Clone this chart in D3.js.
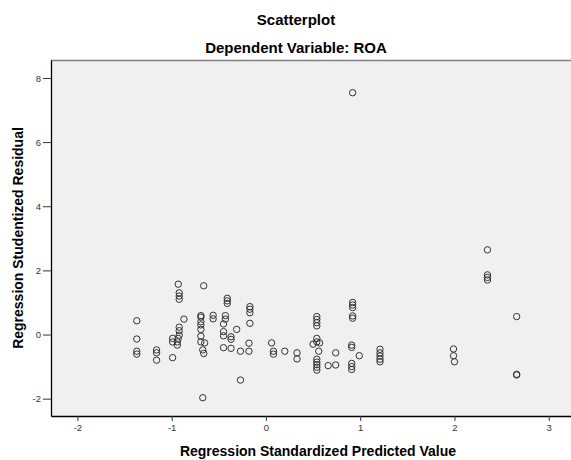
<!DOCTYPE html>
<html>
<head>
<meta charset="utf-8">
<script src="https://cdn.jsdelivr.net/npm/d3@7"></script>
<style>
body{margin:0;background:#fff;}
text{font-family:"Liberation Sans",Arial,sans-serif;}
</style>
</head>
<body>
<div id="viz"></div>
<script>
var w=571
var h=460

//Regression standardized predicted value (x)
var predicted=[-0.93,-0.66,-0.92,-0.92,-0.92,-1.37,-0.87,-0.69,-0.69,-0.69,-0.69,-0.69,-0.69,-0.69,
               -0.56,-0.56,-1.37,-1.37,-1.37,-1.16,-1.16,-1.16,-0.99,-0.92,-0.92,-0.92,-0.93,-0.94,
               -0.94,-0.99,-0.99,-0.67,-0.65,-0.67,-0.66,-0.41,-0.41,-0.41,-0.43,-0.43,-0.45,-0.45,
               -0.45,-0.37,-0.37,-0.31,-0.45,-0.37,-0.17,-0.17,-0.17,-0.17,-0.18,-0.18,-0.27,-0.27,
               0.06,0.08,0.08,0.20,0.33,0.33,0.54,0.54,0.54,0.54,0.54,0.54,0.50,0.57,0.56,0.54,
               0.54,0.54,0.54,0.54,0.66,0.74,0.74,0.92,0.92,0.92,0.92,0.92,0.91,0.91,0.99,0.91,
               0.91,0.91,1.21,1.21,1.21,1.21,1.21,2.35,2.35,2.35,2.35,2.66,1.99,1.99,2.00,2.66,
               2.66,0.92];

//Regression studentized residual (y)
var residual=[1.57,1.52,1.30,1.20,1.10,0.43,0.48,0.59,0.54,0.40,0.30,0.16,-0.05,-0.23,
              0.60,0.49,-0.14,-0.52,-0.61,-0.48,-0.57,-0.80,-0.72,0.23,0.12,-0.02,-0.12,-0.23,
              -0.33,-0.12,-0.23,-1.97,-0.26,-0.48,-0.59,1.13,1.05,0.97,0.59,0.48,0.33,0.09,
              -0.04,-0.07,-0.15,0.16,-0.41,-0.43,0.87,0.79,0.68,0.35,-0.27,-0.52,-0.52,-1.42,
              -0.26,-0.52,-0.61,-0.52,-0.57,-0.76,0.56,0.47,0.37,0.27,-0.12,-0.23,-0.30,-0.26,-0.52,-0.77,
              -0.86,-0.94,-1.02,-1.11,-0.97,-0.57,-0.95,1.00,0.92,0.84,0.58,0.51,-0.33,-0.40,-0.66,-0.90,
              -1.00,-1.09,-0.46,-0.57,-0.67,-0.77,-0.85,2.64,1.86,1.78,1.70,0.56,-0.45,-0.66,-0.85,-1.24,
              -1.26,7.54];

var xTicks=[-2,-1,0,1,2,3];
var yTicks=[-2,0,2,4,6,8];

var plotLeft=51, plotRight=577, plotTop=60, plotBottom=416;

var svg=d3.select("#viz")
          .append("svg")
          .attr("width",w)
          .attr("height",h);

//Scales
var xScale=d3.scaleLinear()
             .domain([-2.28,3.3])
             .range([plotLeft,plotRight]);

var yScale=d3.scaleLinear()
             .domain([-2.54,8.56])
             .range([plotBottom,plotTop]);

//Plot background
svg.append("rect")
   .attr("x",plotLeft)
   .attr("y",plotTop)
   .attr("width",plotRight-plotLeft)
   .attr("height",plotBottom-plotTop)
   .attr("fill","#f0f0f0");

svg.append("line")
   .attr("x1",plotLeft)
   .attr("x2",plotRight)
   .attr("y1",plotTop+0.5)
   .attr("y2",plotTop+0.5)
   .attr("stroke","#808080")
   .attr("stroke-width",1.5);

//Points
svg.append("g")
   .attr("class","points")
   .selectAll("circle")
   .data(predicted)
   .enter()
   .append("circle")
   .attr("cx",function(d) {return xScale(d);})
   .attr("cy",function(d,i) {return yScale(residual[i]);})
   .attr("r",3.2)
   .attr("fill","none")
   .attr("stroke","#333")
   .attr("stroke-width",1);

//Axes
var xAxis=d3.axisBottom(xScale)
            .tickValues(xTicks)
            .tickSize(5)
            .tickSizeOuter(0)
            .tickPadding(3)
            .tickFormat(function(d) {return String(d);});

var yAxis=d3.axisLeft(yScale)
            .tickValues(yTicks)
            .tickSize(8)
            .tickSizeOuter(0)
            .tickPadding(2)
            .tickFormat(function(d) {return String(d);});

var gx=svg.append("g")
          .attr("transform","translate(0,"+plotBottom+")")
          .call(xAxis);

var gy=svg.append("g")
          .attr("transform","translate("+plotLeft+",0)")
          .call(yAxis);

[gx,gy].forEach(function(g) {
    g.select(".domain").attr("stroke","#000").attr("stroke-width",1.3);
    g.selectAll(".tick line").attr("stroke","#333");
    g.selectAll(".tick text")
     .attr("fill","#333")
     .style("font-size","9.5px")
     .style("font-family","'Liberation Sans',Arial,sans-serif");
});

//Titles
svg.append("text")
   .attr("x",296)
   .attr("y",25)
   .attr("text-anchor","middle")
   .attr("font-weight","bold")
   .style("font-size","15px")
   .text("Scatterplot");

svg.append("text")
   .attr("x",296)
   .attr("y",53)
   .attr("text-anchor","middle")
   .attr("font-weight","bold")
   .style("font-size","15px")
   .text("Dependent Variable: ROA");

//Axis labels
svg.append("text")
   .attr("x",318)
   .attr("y",456)
   .attr("text-anchor","middle")
   .attr("font-weight","bold")
   .style("font-size","14px")
   .text("Regression Standardized Predicted Value");

svg.append("text")
   .attr("transform","translate(23,"+((plotTop+plotBottom)/2)+") rotate(-90)")
   .attr("text-anchor","middle")
   .attr("font-weight","bold")
   .style("font-size","14px")
   .text("Regression Studentized Residual");
</script>
</body>
</html>
